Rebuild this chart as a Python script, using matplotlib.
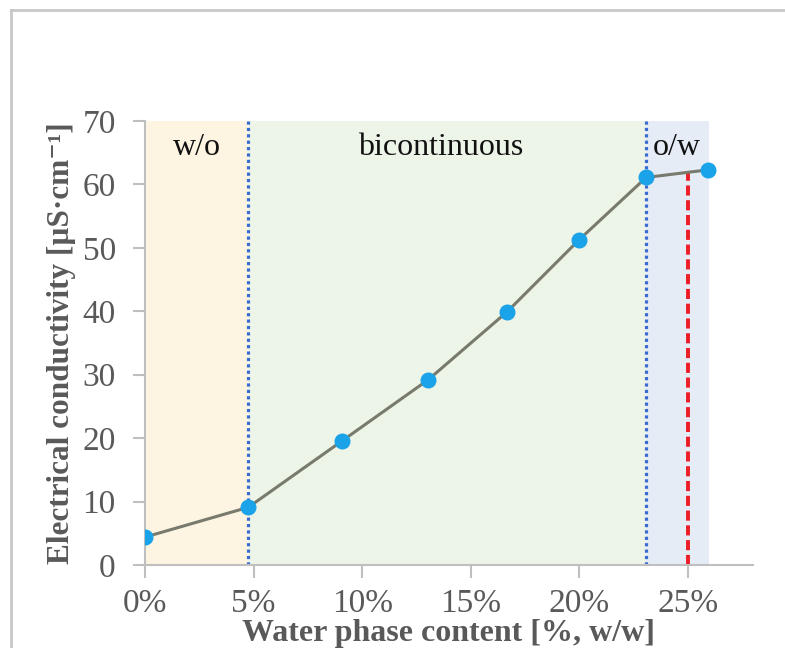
import matplotlib
matplotlib.use('Agg')
import matplotlib.pyplot as plt
from matplotlib.lines import Line2D
from matplotlib.ticker import FuncFormatter

# water phase content [%, w/w] and conductivity [uS/cm]
water = [0.0, 4.76, 9.09, 13.04, 16.67, 20.0, 23.08, 25.93]
conductivity = [4.4, 9.1, 19.6, 29.2, 39.9, 51.3, 61.1, 62.3]

# structural regions
regions = ['w/o', 'bicontinuous', 'o/w']
region_edges = [0.0, 4.76, 23.08, 25.97]
region_label_x = [2.38, 13.6, 24.5]
region_colors = ['#fdf5e2', '#edf4e8', '#e6ecf6']
transitions = [4.76, 23.08]
percolation = 25.0

plt.rcParams['font.family'] = ['Liberation Serif', 'DejaVu Serif']

fig = plt.figure(figsize=(7.85, 6.48), dpi=100)
ax = fig.add_axes([145 / 785, 83 / 648, 608 / 785, 444 / 648])

gray = '#595959'
for i, name in enumerate(regions):
    ax.axvspan(region_edges[i], region_edges[i + 1], ymin=0, ymax=1,
               color=region_colors[i], lw=0, zorder=0)
    ax.text(region_label_x[i], 65.9, name,
            ha='center', va='center', fontsize=23, color='#111111')

for xv in transitions:
    ax.axvline(xv, color='#3a6bd0', ls=(0, (1, 1)), lw=2.3, zorder=1)

# red marker at 25 % drawn up to the curve
y_at = conductivity[6] + (conductivity[7] - conductivity[6]) * \
    (percolation - water[6]) / (water[7] - water[6])
ax.plot([percolation, percolation], [0, y_at], color='#ee1c25', ls=(0, (2.6, 1.2)),
        lw=2.8, zorder=2)

ax.plot(water, conductivity, color='#777a6c', lw=2.2, zorder=3)
ax.plot(water, conductivity, 'o', color='#1aa3e8', ms=10.5, zorder=4)

ax.set_xlim(0, 28)
ax.set_ylim(0, 70)
ax.set_xticks([0, 5, 10, 15, 20, 25])
ax.set_yticks(range(0, 71, 10))
ax.xaxis.set_major_formatter(FuncFormatter(lambda v, p: f'{v:.0f}%'))

for side in ['top', 'right']:
    ax.spines[side].set_visible(False)
for side in ['left', 'bottom']:
    ax.spines[side].set_color('#bfbfbf')
    ax.spines[side].set_linewidth(1.5)
ax.tick_params(axis='both', colors='#bfbfbf', labelcolor=gray, labelsize=24,
               length=9, width=1.5, direction='out')
ax.tick_params(axis='x', pad=8)
ax.tick_params(axis='y', pad=12)

ax.set_xlabel('Water phase content [%, w/w]', fontsize=23, fontweight='bold',
              color=gray, va='center')
ax.set_ylabel('Electrical conductivity [µS·cm⁻¹]', fontsize=22.5,
              fontweight='bold', color=gray, va='center')
ax.xaxis.set_label_coords(0.5, (565 - 634) / 444)
ax.yaxis.set_label_coords((62 - 145) / 608, 0.5)

# frame lines along the top and left edges
fig.add_artist(Line2D([10.5 / 785, 10.5 / 785], [0, 1 - 9.5 / 648],
                      color='#c8c8c8', lw=2, transform=fig.transFigure))
fig.add_artist(Line2D([10.5 / 785, 1], [1 - 9.5 / 648, 1 - 9.5 / 648],
                      color='#c8c8c8', lw=2, transform=fig.transFigure))

fig.savefig('out.png', dpi=100)
